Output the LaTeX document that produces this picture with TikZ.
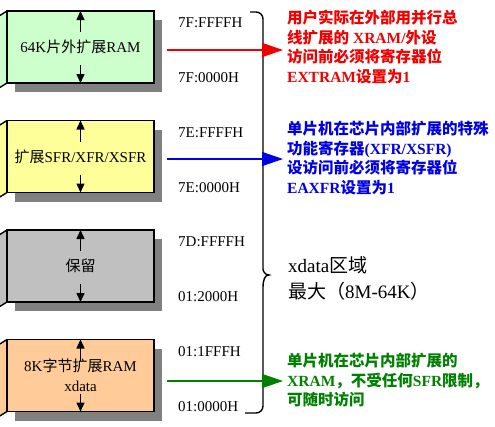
\documentclass[tikz,border=0pt]{standalone}
\usepackage{fontspec}
\setmainfont{Liberation Serif}
\newfontfamily\cjk{Noto Sans CJK SC}
\usepackage{tikz}
\usetikzlibrary{arrows.meta,positioning,calc,backgrounds}
\definecolor{ramgreen}{RGB}{204,255,204}
\definecolor{sfryellow}{RGB}{255,255,153}
\definecolor{rsvgray}{RGB}{192,192,192}
\definecolor{xramorange}{RGB}{255,204,153}
\definecolor{shadowgray}{RGB}{128,128,128}
\definecolor{notered}{RGB}{240,0,0}
\definecolor{noteblue}{RGB}{0,0,230}
\definecolor{notegreen}{RGB}{0,128,0}
\tikzset{
  membox/.style  ={rectangle, draw=black, line width=1.6pt, outer sep=0pt,
                   align=center, minimum width=147pt, minimum height=72pt,
                   font=\fontsize{15}{20}\selectfont},
  addr/.style    ={anchor=west, inner sep=0pt, font=\fontsize{15}{18}\selectfont},
  note/.style    ={anchor=north west, align=left, inner sep=0pt,
                   font=\fontsize{15.5}{19.5}\selectfont\bfseries},
  tick/.style    ={-{Triangle[length=9pt,width=8pt]}, line width=1.5pt},
  callout/.style ={-{Triangle[length=21pt,width=14pt]}, line width=1.4pt},
  brace/.style   ={line width=1.4pt},
}
\begin{document}
\begin{tikzpicture}[x=1pt,y=-1pt]
  \useasboundingbox (0,0) rectangle (495,426);
  % memory blocks
  \node[membox, fill=ramgreen] (ext) at (80.5,47) {64K{\cjk 片外扩展}RAM};
  \node[membox, fill=sfryellow, below=37.5pt of ext] (sfr) {{\cjk 扩展}SFR/XFR/XSFR};
  \node[membox, fill=rsvgray, below=37.5pt of sfr] (rsv) {{\cjk 保留}};
  \node[membox, fill=xramorange, below=37.5pt of rsv] (xram) {8K{\cjk 字节扩展}RAM\\xdata};
  \begin{scope}[on background layer]
    \foreach \b/\c in {ext/ramgreen, sfr/sfryellow, rsv/rsvgray, xram/xramorange} {
      \fill[shadowgray] ($(\b.south west)+(8,9)$) rectangle ($(\b.north east)+(8,9)$);
      \fill[\c] (\b.north west) -- ++(-8,5) -- ($(\b.south west)+(-8,5)$) -- (\b.south west) -- cycle;
      \draw[line width=1.4pt] (\b.north west) -- ++(-8,5);
      \draw[line width=1.4pt] (\b.south west) -- ++(-8,5);
    }
  \end{scope}
  \foreach \b in {ext,sfr,rsv,xram} {
    \draw[tick] ($(\b.center)+(0,-15)$) -- (\b.north);
    \draw[tick] ($(\b.center)+(0,18)$) -- (\b.south);
  }
  % addresses
  \node[addr] (extHi)  at ($(ext.north east)+(24,12)$)  {7F:FFFFH};
  \node[addr] (extLo)  at ($(ext.south east)+(24,-5)$)  {7F:0000H};
  \node[addr] (sfrHi)  at ($(sfr.north east)+(24,12)$)  {7E:FFFFH};
  \node[addr] (sfrLo)  at ($(sfr.south east)+(24,-5)$)  {7E:0000H};
  \node[addr] (rsvHi)  at ($(rsv.north east)+(24,12)$)  {7D:FFFFH};
  \node[addr] (rsvLo)  at ($(rsv.south east)+(24,-5)$)  {01:2000H};
  \node[addr] (xramHi) at ($(xram.north east)+(24,12)$) {01:1FFFH};
  \node[addr] (xramLo) at ($(xram.south east)+(24,-5)$) {01:0000H};
  % brace
  \draw[brace] (250,12) [rounded corners=7pt] -| (263,262) [sharp corners]
    .. controls (263,271) and (265,275) .. (269,275)
    .. controls (265,275) and (263,279) .. (263,288)
    [rounded corners=7pt] |- (245,413);
  \node[anchor=north west, align=left, inner sep=0pt,
        font=\fontsize{19}{26}\selectfont] (xrange) at (288,256)
        {xdata{\cjk 区域}\\{\cjk 最大（}8M-64K{\cjk ）}};
  % notes
  \node[note, text=notered] (rednote) at (287,10)
    {{\cjk 用户实际在外部用并行总}\\{\cjk 线扩展的} XRAM/{\cjk 外设}\\{\cjk 访问前必须将寄存器位}\\EXTRAM{\cjk 设置为}1};
  \node[note, text=noteblue] (bluenote) at (287,121)
    {{\cjk 单片机在芯片内部扩展的特殊}\\{\cjk 功能寄存器}(XFR/XSFR)\\{\cjk 设访问前必须将寄存器位}\\EAXFR{\cjk 设置为}1};
  \node[note, text=notegreen] (greennote) at (287,353)
    {{\cjk 单片机在芯片内部扩展的}\\XRAM{\cjk ，不受任何}SFR{\cjk 限制，}\\{\cjk 可随时访问}};
  \draw[callout, notered] ($(ext.east)+(13,3)$) -- ($(ext.east -| rednote.west)+(-4,3)$);
  \draw[callout, noteblue] ($(sfr.east)+(13,2.5)$) -- ($(sfr.east -| bluenote.west)+(-4,2.5)$);
  \draw[callout, notegreen] ($(xram.east)+(13,5.5)$) -- ($(xram.east -| greennote.west)+(-4,5.5)$);
\end{tikzpicture}
\end{document}
